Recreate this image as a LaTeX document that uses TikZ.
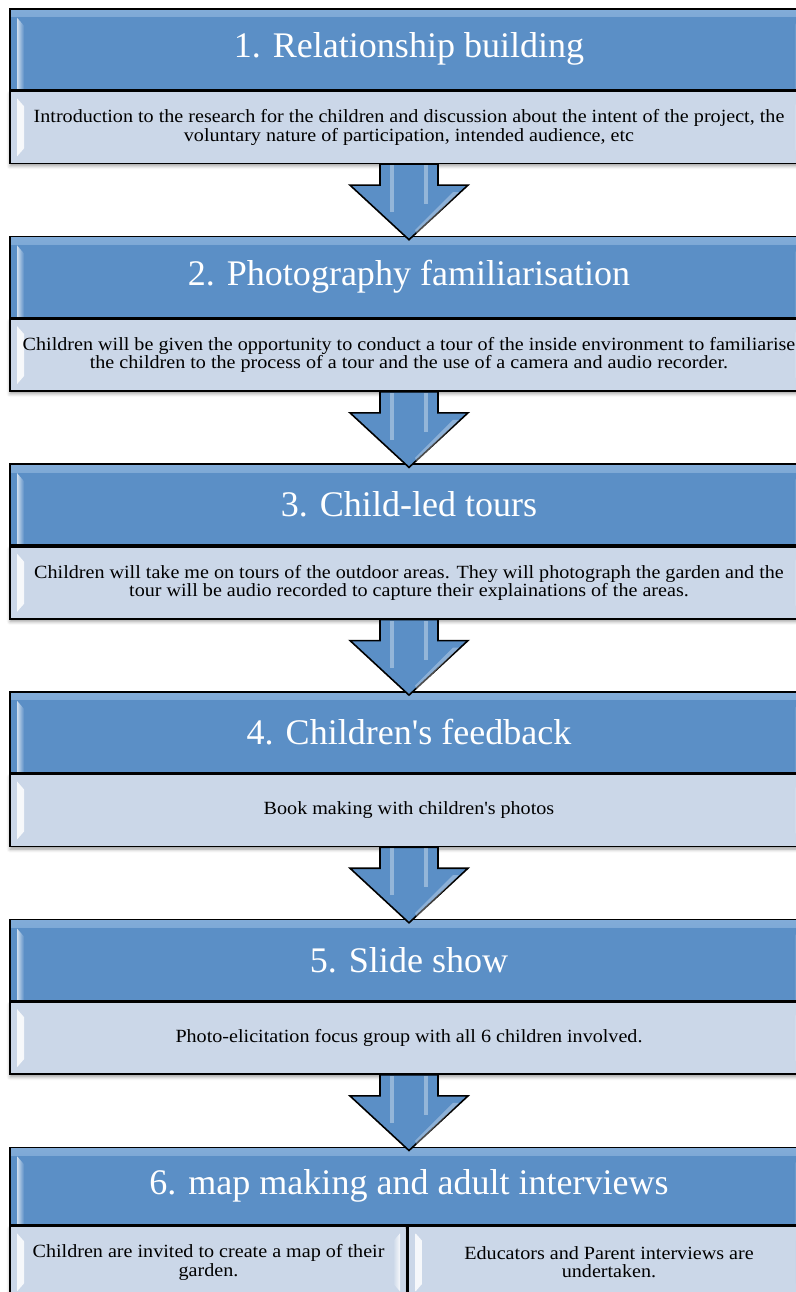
\documentclass[tikz,border=0pt]{standalone}
\usepackage{fontspec}
\setmainfont{Liberation Serif}
\newfontfamily\bodyfont{Liberation Serif}[FakeStretch=1.08]
\usetikzlibrary{calc,shadows.blur}

\definecolor{headblue}{RGB}{91,143,198}
\definecolor{bodyblue}{RGB}{203,215,232}
\definecolor{shineblue}{RGB}{130,172,216}

\tikzset{
  head/.style={draw=black, line width=0.9pt, fill=headblue, text=white,
    minimum width=15.96cm, minimum height=1.62cm, inner sep=0pt,
    font=\fontsize{20.5}{24}\selectfont,
    path picture={
      \fill[top color=shineblue, bottom color=headblue]
        (path picture bounding box.north west) rectangle ($(path picture bounding box.north east)+(0,8)$);
      \fill[left color=white!70!headblue, right color=headblue]
        ($(path picture bounding box.north west)+(7,9)$) -- ++(7,8) -- ($(path picture bounding box.south west)+(14,0)$) -- ++(-7,0) -- cycle;
      \fill[right color=white!70!headblue, left color=headblue]
        ($(path picture bounding box.north east)+(-7,9)$) -- ++(-7,8) -- ($(path picture bounding box.south east)+(-14,0)$) -- ++(7,0) -- cycle;
    }},
  body/.style={draw=black, line width=0.9pt, fill=bodyblue, align=center,
    minimum width=15.96cm, minimum height=1.44cm, inner sep=0pt,
    font=\bodyfont\fontsize{10.6}{10.4}\selectfont,
    blur shadow={shadow xshift=0pt, shadow yshift=-1.5pt, shadow blur radius=2pt, shadow opacity=40},
    path picture={
      \fill[left color=white!85!bodyblue, right color=bodyblue]
        ($(path picture bounding box.north west)+(7,7)$) -- ++(7,8) -- ($(path picture bounding box.south west)+(14,-15)$) -- ++(-7,8) -- cycle;
      \fill[right color=white!85!bodyblue, left color=bodyblue]
        ($(path picture bounding box.north east)+(-7,7)$) -- ++(-7,8) -- ($(path picture bounding box.south east)+(-14,-15)$) -- ++(7,8) -- cycle;
    }},
  flowarrow/.style={draw=black, line width=0.9pt, fill=headblue, line join=miter,
    to path={($(\tikztostart.south)+(-29,0)$) -- ++(0,21) -- ++(-30,0)
      -- ($(\tikztotarget.north)+(0,4)$) -- ($(\tikztostart.south)+(59,21)$)
      -- ++(-30,0) -- ++(0,-21) -- cycle}}
}

\begin{document}
\begin{tikzpicture}[x=0.02cm, y=-0.02cm]
\useasboundingbox (0,0) rectangle (795,1292);

% steps 1-5: heading over a description
\node[head, anchor=north] (h1) at (409,8) {1. Relationship building};
\node[body, anchor=north] (b1) at (h1.south) {Introduction to the research for the children and discussion about the intent of the project, the\\voluntary nature of participation, intended audience, etc};

\node[head, anchor=north] (h2) at (409,235.7) {2. Photography familiarisation};
\node[body, anchor=north] (b2) at (h2.south) {Children will be given the opportunity to conduct a tour of the inside environment to familiarise\\the children to the process of a tour and the use of a camera and audio recorder.};

\node[head, anchor=north] (h3) at (409,463.4) {3. Child-led tours};
\node[body, anchor=north] (b3) at (h3.south) {Children will take me on tours of the outdoor areas. They will photograph the garden and the\\tour will be audio recorded to capture their explainations of the areas.};

\node[head, anchor=north] (h4) at (409,691.1) {4. Children\textquotesingle s feedback};
\node[body, anchor=north] (b4) at (h4.south) {Book making with children\textquotesingle s photos};

\node[head, anchor=north] (h5) at (409,918.8) {5. Slide show};
\node[body, anchor=north] (b5) at (h5.south) {Photo-elicitation focus group with all 6 children involved.};

% step 6 has two descriptions side by side
\node[head, anchor=north, minimum height=1.55cm] (h6) at (409,1146.5) {6. map making and adult interviews};
\node[body, anchor=north west, minimum width=7.94cm] (b6l) at (h6.south west) {Children are invited to create a map of their\\garden.};
\node[body, anchor=north west, minimum width=8.02cm] (b6r) at (b6l.north east) {Educators and Parent interviews are\\undertaken.};

% arrows between the steps
\draw[flowarrow] (b1) to (h2);
\draw[flowarrow] (b2) to (h3);
\draw[flowarrow] (b3) to (h4);
\draw[flowarrow] (b4) to (h5);
\draw[flowarrow] (b5) to (h6);

% shine on the arrows
\foreach \a in {b1,b2,b3,b4,b5} {
  \fill[white, opacity=0.35] ($(\a.south)+(-19,1)$) rectangle ($(\a.south)+(-15,48)$);
  \fill[white, opacity=0.35] ($(\a.south)+(15,1)$) rectangle ($(\a.south)+(19,40)$);
  \fill[white, opacity=0.3] ($(\a.south)+(44,28)$) -- ($(\a.south)+(50,28)$) -- ($(\a.south)+(8,70)$) -- ($(\a.south)+(6,66)$) -- cycle;
}
\end{tikzpicture}
\end{document}
